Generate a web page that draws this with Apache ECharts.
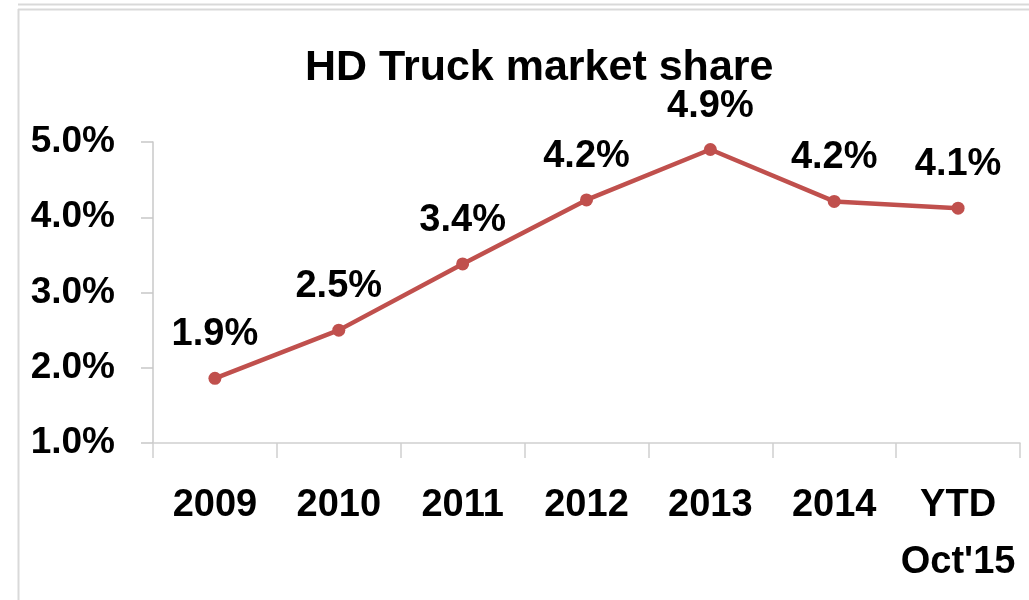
<!DOCTYPE html>
<html><head><meta charset="utf-8">
<script src="https://cdn.jsdelivr.net/npm/echarts@6/dist/echarts.min.js"></script>
<style>html,body{margin:0;padding:0;background:#fff}#c{width:1029px;height:600px}</style>
</head><body><div id="c"></div>
<script>
const titleText = "HD Truck market share";
const categories = ["2009", "2010", "2011", "2012", "2013", "2014", "YTD\nOct'15"];
const shareValues = [1.86, 2.50, 3.38, 4.23, 4.90, 4.21, 4.12];
const shareLabels = ["1.9%", "2.5%", "3.4%", "4.2%", "4.9%", "4.2%", "4.1%"];
const yTicks = [1, 2, 3, 4, 5];

const FONT = '"Liberation Sans Narrow", "Liberation Sans", Arial, sans-serif';
const chart = echarts.init(document.getElementById('c'), null, {renderer: 'canvas'});
chart.setOption({
  backgroundColor: '#fff',
  animation: false,
  title: {
    text: titleText, left: 300, top: 42,
    textStyle: {fontFamily: FONT, fontWeight: 'bold', fontSize: 43, color: '#000'}
  },
  graphic: [
    {type: 'line', shape: {x1: 18, y1: 4.5, x2: 1029, y2: 4.5}, style: {stroke: '#d9d9d9', lineWidth: 2}},
    {type: 'line', shape: {x1: 18, y1: 9.5, x2: 1029, y2: 9.5}, style: {stroke: '#d9d9d9', lineWidth: 2}},
    {type: 'line', shape: {x1: 18.5, y1: 9, x2: 18.5, y2: 600}, style: {stroke: '#d9d9d9', lineWidth: 2}}
  ],
  grid: {left: 153, right: 9, top: 142, bottom: 157, containLabel: false},
  xAxis: {
    type: 'category', data: categories, boundaryGap: true,
    axisLine: {lineStyle: {color: '#d0d0d0', width: 1.5}},
    axisTick: {show: true, length: 15, lineStyle: {color: '#d0d0d0', width: 1.5}},
    axisLabel: {fontFamily: FONT, fontWeight: 'bold', fontSize: 38, color: '#000', margin: 34, lineHeight: 57, interval: 0}
  },
  yAxis: {
    type: 'value', min: yTicks[0], max: yTicks[yTicks.length - 1], interval: 1,
    axisLine: {show: true, lineStyle: {color: '#c8c8c8', width: 1.5}},
    axisTick: {show: true, length: 12, lineStyle: {color: '#c8c8c8', width: 1.5}},
    splitLine: {show: false},
    axisLabel: {fontFamily: FONT, fontWeight: 'bold', fontSize: 37, color: '#000', margin: 38,
      formatter: v => v.toFixed(1) + '%'}
  },
  series: [{
    type: 'line', data: shareValues,
    lineStyle: {color: '#c0504d', width: 4.5},
    itemStyle: {color: '#c0504d'},
    symbol: 'circle', symbolSize: 13,
    label: {show: true, position: 'top', distance: 18,
      fontFamily: FONT, fontWeight: 'bold', fontSize: 38, color: '#000',
      formatter: p => shareLabels[p.dataIndex]}
  }]
});
</script></body></html>
